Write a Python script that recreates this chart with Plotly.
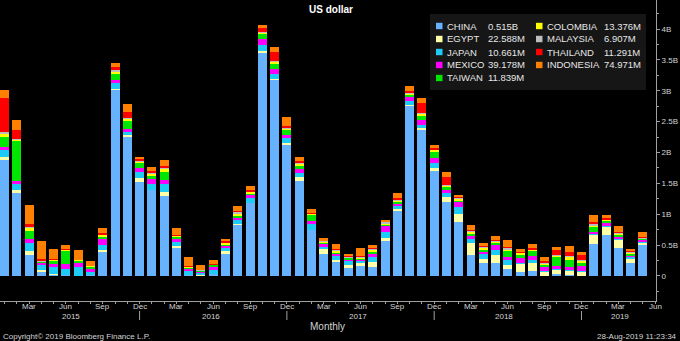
import plotly.graph_objects as go
import pandas as pd

# ---------------- data (billions of US dollars) ----------------
MONTHS = [d.strftime("%b %Y") for d in pd.date_range("2015-01-01", "2019-05-01", freq="MS")]

CHINA = [1.88, 1.36, 0.335, 0.07, 0.02, 0.01, 0.005, 0.015, 0.395, 3.02, 2.26, 1.53,
         1.39, 1.30, 0.46, 0.01, 0.01, 0.04, 0.37, 0.84, 1.18, 3.62, 3.19, 2.12,
         1.54, 0.75, 0.35, 0.23, 0.135, 0.17, 0.14, 0.58, 1.06, 2.76, 2.375, 1.705,
         1.20, 0.87, 0.34, 0.21, 0.21, 0.11, 0.065, 0.085, 0.005, 0.03, 0.01, 0.005,
         0.525, 0.66, 0.455, 0.205, 0.515]
EGYPT = [0.055, 0.03, 0.065, 0.03, 0.005, 0.0, 0.0, 0.0, 0.025, 0.01, 0.02, 0.065,
         0.0, 0.06, 0.03, 0.0, 0.005, 0.0, 0.03, 0.005, 0.0, 0.03, 0.005, 0.04,
         0.06, 0.0, 0.08, 0.03, 0.045, 0.035, 0.085, 0.03, 0.03, 0.005, 0.025, 0.045,
         0.08, 0.13, 0.19, 0.065, 0.135, 0.075, 0.14, 0.14, 0.065, 0.08, 0.085, 0.07,
         0.14, 0.14, 0.13, 0.085, 0.022588]
JAPAN = [0.12, 0.10, 0.14, 0.08, 0.12, 0.11, 0.135, 0.055, 0.085, 0.10, 0.055, 0.09,
         0.10, 0.125, 0.055, 0.08, 0.04, 0.065, 0.055, 0.055, 0.09, 0.085, 0.07, 0.07,
         0.075, 0.09, 0.045, 0.065, 0.055, 0.045, 0.075, 0.10, 0.045, 0.075, 0.05, 0.08,
         0.07, 0.115, 0.07, 0.08, 0.08, 0.07, 0.01, 0.03, 0.01, 0.01, 0.005, 0.01,
         0.02, 0.01, 0.01, 0.02, 0.010661]
MEXICO = [0.03, 0.045, 0.055, 0.04, 0.055, 0.08, 0.075, 0.045, 0.095, 0.04, 0.045, 0.07,
          0.08, 0.065, 0.07, 0.03, 0.02, 0.055, 0.04, 0.045, 0.045, 0.10, 0.09, 0.055,
          0.065, 0.055, 0.055, 0.045, 0.035, 0.025, 0.055, 0.11, 0.03, 0.055, 0.075, 0.08,
          0.05, 0.085, 0.04, 0.035, 0.07, 0.055, 0.07, 0.075, 0.065, 0.05, 0.045, 0.08,
          0.03, 0.055, 0.045, 0.025, 0.039178]
TAIWAN = [0.16, 0.66, 0.14, 0.01, 0.05, 0.215, 0.03, 0.04, 0.03, 0.10, 0.145, 0.075,
          0.055, 0.14, 0.02, 0.025, 0.01, 0.02, 0.015, 0.02, 0.025, 0.085, 0.085, 0.09,
          0.05, 0.10, 0.01, 0.01, 0.025, 0.01, 0.045, 0.02, 0.04, 0.04, 0.065, 0.11,
          0.045, 0.03, 0.055, 0.045, 0.045, 0.10, 0.065, 0.075, 0.045, 0.15, 0.12, 0.055,
          0.085, 0.03, 0.03, 0.025, 0.011839]
COLOMBIA = [0.055, 0.01, 0.045, 0.01, 0.015, 0.015, 0.015, 0.01, 0.04, 0.05, 0.02, 0.03,
            0.04, 0.055, 0.015, 0.01, 0.005, 0.01, 0.025, 0.055, 0.025, 0.025, 0.03, 0.02,
            0.025, 0.01, 0.02, 0.03, 0.01, 0.01, 0.03, 0.01, 0.025, 0.02, 0.035, 0.025,
            0.025, 0.025, 0.025, 0.025, 0.02, 0.025, 0.025, 0.02, 0.015, 0.015, 0.055, 0.03,
            0.025, 0.015, 0.025, 0.025, 0.013376]
MALAYSIA = [0.04, 0.02, 0.01, 0.01, 0.005, 0.0, 0.0, 0.0, 0.01, 0.02, 0.01, 0.01,
            0.01, 0.01, 0.005, 0.0, 0.01, 0.0, 0.01, 0.025, 0.01, 0.01, 0.01, 0.01,
            0.01, 0.005, 0.01, 0.02, 0.005, 0.025, 0.01, 0.03, 0.01, 0.01, 0.02, 0.01,
            0.01, 0.01, 0.01, 0.01, 0.01, 0.03, 0.01, 0.01, 0.01, 0.01, 0.01, 0.01,
            0.01, 0.01, 0.01, 0.01, 0.006907]
THAILAND = [0.55, 0.14, 0.045, 0.03, 0.005, 0.005, 0.0, 0.005, 0.01, 0.04, 0.10, 0.03,
            0.02, 0.02, 0.01, 0.015, 0.005, 0.01, 0.015, 0.015, 0.01, 0.065, 0.15, 0.03,
            0.045, 0.005, 0.01, 0.01, 0.02, 0.01, 0.01, 0.01, 0.02, 0.03, 0.15, 0.03,
            0.12, 0.01, 0.015, 0.01, 0.02, 0.01, 0.01, 0.015, 0.03, 0.07, 0.065, 0.08,
            0.045, 0.015, 0.01, 0.015, 0.011291]
INDONESIA = [0.125, 0.16, 0.31, 0.29, 0.165, 0.075, 0.155, 0.075, 0.095, 0.07, 0.13, 0.03,
             0.065, 0.10, 0.115, 0.14, 0.07, 0.06, 0.04, 0.075, 0.07, 0.05, 0.085, 0.135,
             0.06, 0.07, 0.03, 0.085, 0.03, 0.13, 0.06, 0.02, 0.09, 0.075, 0.09, 0.03,
             0.09, 0.035, 0.08, 0.06, 0.055, 0.10, 0.04, 0.07, 0.065, 0.055, 0.085, 0.055,
             0.10, 0.055, 0.10, 0.03, 0.074971]

SERIES = ["CHINA", "EGYPT", "JAPAN", "MEXICO", "TAIWAN", "COLOMBIA", "MALAYSIA", "THAILAND", "INDONESIA"]
VALUES = [CHINA, EGYPT, JAPAN, MEXICO, TAIWAN, COLOMBIA, MALAYSIA, THAILAND, INDONESIA]
COLORS = ["#66B2FF", "#FFFFA6", "#1ECBF7", "#FF00FF", "#00E600", "#FFFF00", "#BDBDBD", "#FF0000", "#FF8000"]

Y_TICKS = [0, 0.5, 1, 1.5, 2, 2.5, 3, 3.5, 4]
Y_TICKTEXT = ["0", "0.5B", "1B", "1.5B", "2B", "2.5B", "3B", "3.5B", "4B"]
YEARS = ["2015", "2016", "2017", "2018", "2019"]
YEAR_POS = [5.4, 16.8, 28.8, 40.7, 50.1]

# ---------------- figure ----------------
FONT = "Liberation Sans, Arial, sans-serif"
TXT = "#d4d4d4"
AX = "#a0a0a0"
W, H = 680, 341
ML, MR, MT, MB = 0, 24, 0, 40
PW, PH = W - ML - MR, H - MT - MB


def px(x):
    return (x - ML) / PW


def py(y):
    return 1 - (y - MT) / PH


xs = list(range(len(MONTHS)))
fig = go.Figure()
for name, vals, col in zip(SERIES, VALUES, COLORS):
    fig.add_trace(go.Bar(x=xs, y=vals, name=name, marker=dict(color=col, line=dict(width=0)),
                         hovertext=MONTHS))

# x ticks: every month; quarter-month labels drawn as annotations
tickvals = list(range(len(MONTHS) + 1))
all_months = list(pd.date_range("2015-01-01", periods=len(tickvals), freq="MS"))

fig.update_layout(
    width=W, height=H, margin=dict(l=ML, r=MR, t=MT, b=MB),
    paper_bgcolor="black", plot_bgcolor="black",
    barmode="stack", bargap=0.27, showlegend=False,
    font=dict(family=FONT, color=TXT, size=8),
    xaxis=dict(range=[-0.37, 53.07], tickvals=tickvals, ticktext=[""] * len(tickvals),
               showgrid=False, zeroline=False, showline=True, linecolor=AX, linewidth=1,
               ticks="outside", ticklen=2, tickcolor=AX),
    yaxis=dict(range=[-0.405, 4.47], side="right", tickvals=Y_TICKS, ticktext=Y_TICKTEXT,
               showgrid=False, zeroline=False, showline=True, linecolor=AX, linewidth=1,
               ticks="outside", ticklen=3, tickcolor=AX, tickfont=dict(size=8, color=TXT),
               minor=dict(dtick=0.25, tick0=0, ticks="outside", ticklen=2, tickcolor=AX)),
)

shapes = []
annotations = []

# month labels
for i, d in enumerate(all_months):
    if d.month in (3, 6, 9, 12):
        annotations.append(dict(x=i, xref="x", y=py(306.5), yref="paper", text=d.strftime("%b"),
                                showarrow=False, font=dict(size=8, color=TXT),
                                xanchor="center", yanchor="middle"))
    if d.month == 12:
        shapes.append(dict(type="line", xref="x", yref="paper", x0=i, x1=i,
                           y0=py(311), y1=py(320), line=dict(color=AX, width=1)))

# year labels
for yr, pos in zip(YEARS, YEAR_POS):
    annotations.append(dict(x=pos, xref="x", y=py(316.5), yref="paper", text=yr, showarrow=False,
                            font=dict(size=8, color=TXT), xanchor="center", yanchor="middle"))

# title, footers
annotations.append(dict(x=px(331), y=py(10), xref="paper", yref="paper", text="<b>US dollar</b>",
                        showarrow=False, font=dict(size=10, color="white"), xanchor="center", yanchor="middle"))
annotations.append(dict(x=px(327), y=py(326.5), xref="paper", yref="paper", text="Monthly",
                        showarrow=False, font=dict(size=10, color=TXT), xanchor="center", yanchor="middle"))
annotations.append(dict(x=px(1), y=py(336.5), xref="paper", yref="paper",
                        text="Copyright\u00a9 2019 Bloomberg Finance L.P.",
                        showarrow=False, font=dict(size=8, color=TXT), xanchor="left", yanchor="middle"))
annotations.append(dict(x=px(679), y=py(336.5), xref="paper", yref="paper", text="28-Aug-2019 11:23:34",
                        showarrow=False, font=dict(size=8, color=TXT), xanchor="right", yanchor="middle"))

# custom legend
shapes.append(dict(type="rect", xref="paper", yref="paper", x0=px(430), x1=px(646), y0=py(14), y1=py(90),
                   fillcolor="#161616", line=dict(width=0), layer="above"))


def fmt(v):
    return f"{v:.3f}B" if v >= 0.1 else f"{v * 1000:.3f}M"


cols = [(436, 445, 486), (536, 545, 602)]
for i, (name, vals, col) in enumerate(zip(SERIES, VALUES, COLORS)):
    c = 0 if i < 5 else 1
    r = i if i < 5 else i - 5
    sx, nx, vx = cols[c]
    yc = 26 + 13 * r
    shapes.append(dict(type="rect", xref="paper", yref="paper", x0=px(sx), x1=px(sx + 6.5),
                       y0=py(yc - 3.2), y1=py(yc + 3.2), fillcolor=col, line=dict(width=0), layer="above"))
    annotations.append(dict(x=px(nx), y=py(yc), xref="paper", yref="paper", text=name, showarrow=False,
                            font=dict(size=9.5, color="#e6e6e6"), xanchor="left", yanchor="middle"))
    annotations.append(dict(x=px(vx), y=py(yc), xref="paper", yref="paper", text=fmt(vals[-1]),
                            showarrow=False, font=dict(size=9.5, color="#e6e6e6"),
                            xanchor="left", yanchor="middle"))

fig.update_layout(shapes=shapes, annotations=annotations)
fig.write_html("out.html")
